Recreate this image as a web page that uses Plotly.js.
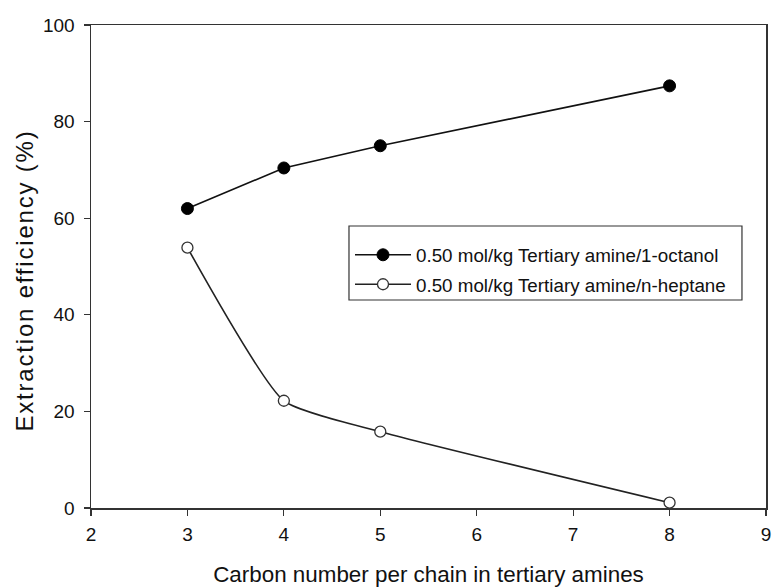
<!DOCTYPE html>
<html>
<head>
<meta charset="utf-8">
<script src="https://cdn.plot.ly/plotly-3.0.1.min.js"></script>
<style>
html,body{margin:0;padding:0;background:#fff;}
#chart{width:772px;height:587px;}
#chart .annotation-text{letter-spacing:1.8px;}
</style>
</head>
<body>
<div id="chart"></div>
<script>
const carbonNumber = [3, 4, 5, 8];
const octanolEfficiency = [62.0, 70.4, 75.0, 87.4];
const heptaneEfficiency = [53.9, 22.2, 15.8, 1.1];
const seriesNames = ["0.50 mol/kg Tertiary amine/1-octanol", "0.50 mol/kg Tertiary amine/n-heptane"];
const xTicks = [2, 3, 4, 5, 6, 7, 8, 9];
const yTicks = [0, 20, 40, 60, 80, 100];
const xTitle = "Carbon number per chain in tertiary amines";
const yTitle = "Extraction efficiency (%)";

const FONT = "Liberation Sans, Arial, sans-serif";

const traces = [
  {
    x: carbonNumber, y: octanolEfficiency, name: seriesNames[0],
    type: "scatter", mode: "lines+markers", legendgroup: "a",
    line: {color: "#111", width: 1.6},
    marker: {symbol: "circle", size: 12, color: "#000", line: {color: "#000", width: 1}},
    cliponaxis: false
  },
  {
    x: carbonNumber, y: heptaneEfficiency, name: seriesNames[1],
    type: "scatter", mode: "lines+markers", legendgroup: "b",
    line: {color: "#222", width: 1.6, shape: "spline", smoothing: 0.5},
    marker: {symbol: "circle", size: 11, color: "#fff", line: {color: "#333", width: 1.3}},
    cliponaxis: false
  }
];

const layout = {
  width: 772, height: 587,
  margin: {l: 91, r: 6, t: 25, b: 79},
  paper_bgcolor: "#fff", plot_bgcolor: "#fff",
  font: {family: FONT, color: "#111", size: 19},
  showlegend: true,
  legend: {
    x: 0.3837, y: 0.563, xanchor: "left", yanchor: "top",
    bgcolor: "rgba(0,0,0,0)", borderwidth: 0,
    font: {family: FONT, size: 18.8, color: "#111"},
    itemwidth: 56,
    tracegroupgap: 2
  },
  shapes: [
    {
      type: "rect", xref: "paper", yref: "paper",
      x0: 0.3822, x1: 0.9644, y0: 0.4306, y1: 0.5839,
      line: {color: "#333", width: 1.2}, fillcolor: "#fff", layer: "above"
    }
  ],
  xaxis: {
    range: [2, 9], tickvals: xTicks, ticktext: xTicks.map(String),
    showgrid: false, zeroline: false,
    showline: true, linecolor: "#333", linewidth: 1.5, mirror: true,
    ticks: "outside", ticklen: 6, tickwidth: 1.2, tickcolor: "#333",
    ticklabelstandoff: 3,
    tickfont: {family: FONT, size: 19, color: "#111"},
    title: {text: xTitle, font: {family: FONT, size: 22.4, color: "#111"}, standoff: 22}
  },
  yaxis: {
    range: [0, 100], tickvals: yTicks, ticktext: yTicks.map(String),
    showgrid: false, zeroline: false,
    showline: true, linecolor: "#333", linewidth: 1.5, mirror: true,
    ticks: "outside", ticklen: 6, tickwidth: 1.2, tickcolor: "#333",
    ticklabelstandoff: 5,
    tickfont: {family: FONT, size: 19, color: "#111"}
  },
  annotations: [
    {
      text: yTitle, textangle: -90, showarrow: false,
      xref: "paper", yref: "paper", x: -0.0993, y: 0.472,
      xanchor: "center", yanchor: "middle",
      font: {family: FONT, size: 24, color: "#111"}
    }
  ]
};

Plotly.newPlot("chart", traces, layout, {displayModeBar: false, staticPlot: true});
</script>
</body>
</html>
